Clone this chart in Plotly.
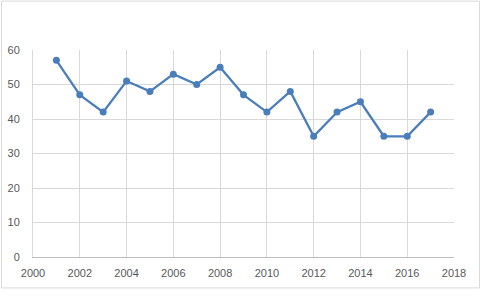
import plotly.graph_objects as go

years = [2001, 2002, 2003, 2004, 2005, 2006, 2007, 2008, 2009, 2010, 2011, 2012, 2013, 2014, 2015, 2016, 2017]
values = [57, 47, 42, 51, 48, 53, 50, 55, 47, 42, 48, 35, 42, 45, 35, 35, 42]

W, H = 487, 296
L, R, T, B = 32.5, 33, 49.5, 39
pw, ph = W - L - R, H - T - B

fig = go.Figure(go.Scatter(
    x=years, y=values, mode="lines+markers",
    line=dict(color="#4a7ebb", width=2.25),
    marker=dict(color="#4a7ebb", size=7),
))

def px2x(p):
    return (p - L) / pw

def py2y(p):
    return (H - B - p) / ph

fig.add_shape(type="rect", xref="paper", yref="paper",
              x0=px2x(1), x1=px2x(479.5), y0=py2y(288), y1=py2y(0.5),
              line=dict(color="#d9d9d9", width=1), fillcolor="rgba(0,0,0,0)", layer="below")

fig.update_layout(
    width=W, height=H,
    margin=dict(l=L, r=R, t=T, b=B, pad=0, autoexpand=False),
    paper_bgcolor="white", plot_bgcolor="white",
    showlegend=False,
    font=dict(family="Liberation Sans, Arial", size=11, color="#595959"),
    xaxis=dict(range=[2000, 2018], dtick=2, tick0=2000, showgrid=True, gridcolor="#d9d9d9",
               gridwidth=1, zeroline=False, showline=True, linecolor="#bfbfbf", linewidth=1,
               ticks="", ticklabelstandoff=6, fixedrange=True, automargin=False),
    yaxis=dict(range=[0, 60], dtick=10, showgrid=True, gridcolor="#d9d9d9", gridwidth=1,
               zeroline=False, showline=True, linecolor="#d9d9d9", linewidth=1,
               ticks="", ticklabelstandoff=10, fixedrange=True, automargin=False),
)

fig.write_html("out.html")
